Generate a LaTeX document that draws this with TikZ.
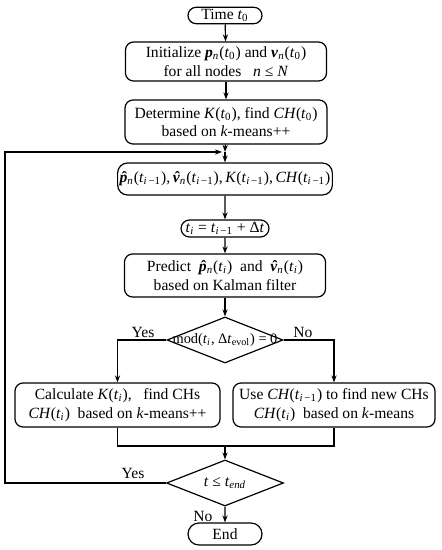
\documentclass[tikz,border=0pt]{standalone}
\usepackage{fontspec}
\setmainfont{Liberation Serif}
\usetikzlibrary{shapes.geometric,shapes.misc,arrows.meta}
\newcommand\tz{\textit{t}\textsubscript{0}}
\newcommand\ti{\textit{t}\textsubscript{\textit{i}}}
\newcommand\tim{\textit{t}\textsubscript{\textit{i}\,−1}}
\newcommand\bpn{\textbf{\textit{p}}\textsubscript{\textit{n}}}
\newcommand\bvn{\textbf{\textit{v}}\textsubscript{\textit{n}}}
\newcommand\hatbi[1]{{\ooalign{\textbf{\textit{#1}}\cr\hidewidth\kern0.12em\textbf{ˆ}\hidewidth\cr}}}
\newcommand\hpn{\hatbi{p}\textsubscript{\textit{n}}}
\newcommand\hvn{\hatbi{v}\textsubscript{\textit{n}}}
\tikzset{
  box/.style={draw, rounded corners=4pt, align=center, inner sep=1pt, line width=0.6pt},
  pill/.style={draw, rounded rectangle, align=center, inner sep=1pt, line width=0.6pt},
  dia/.style={draw, diamond, inner sep=0pt, line width=0.6pt},
  arr/.style={-{Stealth[length=3.5pt,width=2.6pt]}, line width=0.6pt},
  ln/.style={line width=0.6pt},
  lbl/.style={inner sep=0pt}
}
\begin{document}
\begin{tikzpicture}[x=0.5pt,y=-0.5pt,font=\fontsize{7.8}{9.3}\selectfont]
\useasboundingbox (0,0) rectangle (441,550);
\node[pill, minimum width=39pt, minimum height=7.5pt] (start) at (225,15.5) {Time \tz};
\node[box, minimum width=100.5pt, minimum height=19.5pt] (init) at (226,61.5)
  {Initialize \bpn(\tz) and \bvn(\tz)\\ for all nodes~~ \textit{n} ≤ \textit{N}};
\node[box, minimum width=101pt, minimum height=22pt] (det) at (226,122)
  {Determine \textit{K}(\tz), find \textit{CH}(\tz)\\ based on \textit{k}-means++};
\coordinate (j1) at (225,152);
\node[box, rounded corners=5pt, minimum width=102pt, minimum height=16pt] (par) at (225,179)
  {\hpn(\tim),\,\hvn(\tim),\,\textit{K}(\tim),\,\textit{CH}(\tim)};
\node[pill, minimum width=38.5pt, minimum height=8.5pt] (tstep) at (225,228.5)
  {\ti\ = \tim\ + Δ\textit{t}};
\node[box, minimum width=100.5pt, minimum height=21.5pt] (pred) at (225,275.5)
  {Predict~ \hpn(\ti)~ and~ \hvn(\ti)\\ based on Kalman filter};
\node[dia, minimum width=58pt, minimum height=23pt] (d1) at (225,340) {};
\node[lbl] (d1t) at (225,340) {\fontsize{7.2}{8}\selectfont mod(\ti, Δ\textit{t}\textsubscript{evol}) = 0};
\node[box, minimum width=102.5pt, minimum height=22pt] (left) at (117.5,405)
  {Calculate \textit{K}(\ti),~~ find CHs\\ \textit{CH}(\ti)~ based on \textit{k}-means++};
\node[box, minimum width=101pt, minimum height=22pt] (right) at (334,405)
  {Use \textit{CH}(\tim) to find new CHs\\ \textit{CH}(\ti)~ based on \textit{k}-means};
\coordinate (j2) at (225,446);
\node[dia, minimum width=58.5pt, minimum height=23pt] (d2) at (225,483) {};
\node[lbl] (d2t) at (225,483) {\textit{t} ≤ \textit{t}\textsubscript{\textit{end}}};
\node[pill, minimum width=39pt, minimum height=11pt] (end) at (225,534) {End};
\coordinate (lc) at (5,483);
\coordinate (lt) at (5,152);
% connectors
\draw[arr] (start) -- (init);
\draw[arr] (init) -- (det);
\draw[arr] (det) -- (j1);
\draw[arr] (j1) -- (par);
\draw[arr] (par) -- (tstep);
\draw[arr] (tstep) -- (pred);
\draw[arr] (pred) -- (d1);
\draw[arr] (d1.west) -| (left.north);
\draw[arr] (d1.east) -| (right.north);
\draw[ln] (left.south) |- (j2);
\draw[ln] (right.south) |- (j2);
\draw[arr] (j2) -- (d2);
\draw[arr] (d2) -- (end);
\draw[arr] (d2.west) -- (lc) -- (lt) -- ([xshift=-1.5pt]j1);
\node[lbl] (yes1) at (143,332) {Yes};
\node[lbl] (no1) at (303,332) {No};
\node[lbl] (yes2) at (133,473) {Yes};
\node[lbl] (no2) at (203,516) {No};
\end{tikzpicture}
\end{document}
